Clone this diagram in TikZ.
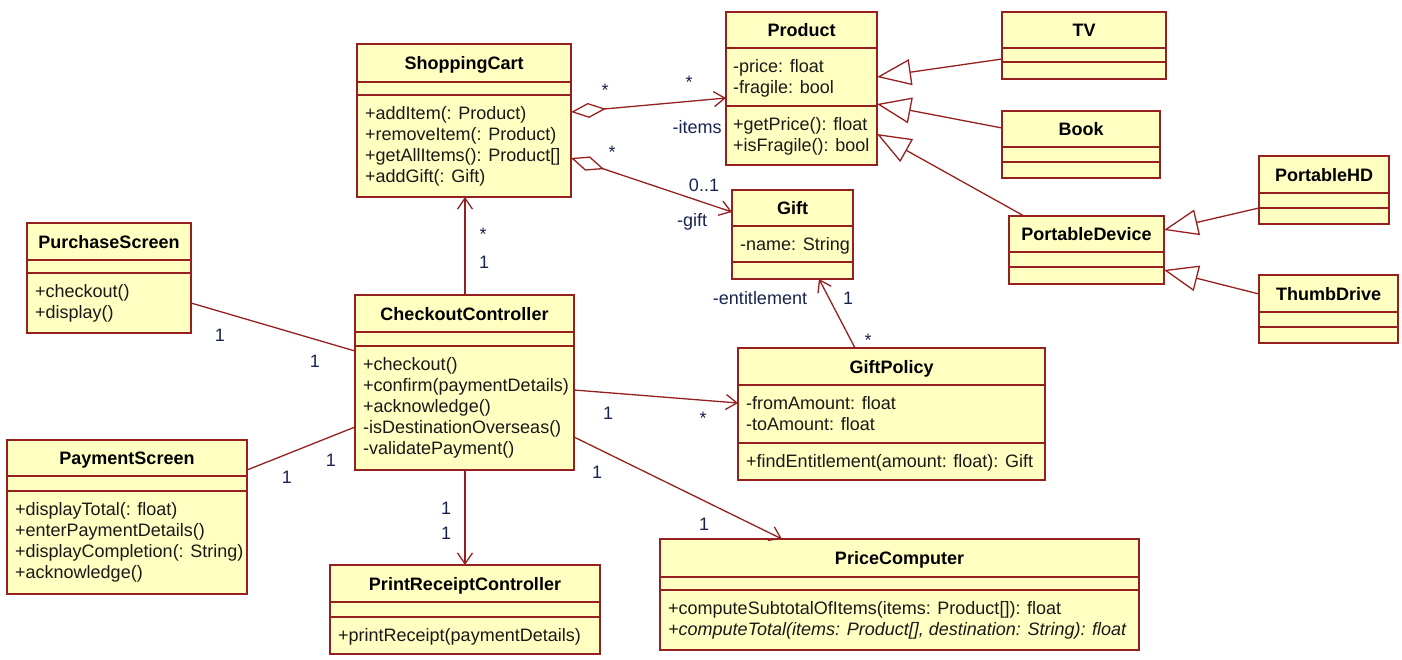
\documentclass[tikz,border=0pt]{standalone}
\usepackage{fontspec}
\setmainfont{Liberation Sans}
\usetikzlibrary{arrows.meta,calc}
\definecolor{boxfill}{RGB}{255,255,194}
\definecolor{boxline}{RGB}{150,32,32}
\definecolor{labelc}{RGB}{25,35,80}
\newcommand\umlfont{\fontsize{18}{21}\selectfont}
\tikzset{
  classbox/.style={draw=boxline, fill=boxfill, line width=1.6pt, inner sep=0pt, outer sep=0pt},
  divider/.style={draw=boxline, line width=1.6pt},
  titletext/.style={font=\umlfont\bfseries, text=black, inner sep=0pt, anchor=base},
  membertext/.style={font=\umlfont, text=black!90, inner sep=0pt, anchor=base west},
  lbl/.style={font=\umlfont, text=labelc, inner sep=0pt},
  conn/.style={draw=boxline, line width=1.3pt},
  nav/.style={-{Straight Barb[length=11pt,width=15pt]}},
  aggnav/.style={{Diamond[open,length=35pt,width=15pt]}-{Straight Barb[length=11pt,width=15pt]}},
  gen/.style={-{Triangle[open,length=34pt,width=26pt]}},
}
% name, x1, y1, x2, y2, divider1, divider2, title
\newcommand\umlclass[8]{%
  \node[classbox, anchor=north west, minimum width={(#4-#2)*1pt}, minimum height={(#5-#3)*1pt}] (#1) at (#2,#3) {};
  \draw[divider] (#2,#6) -- (#4,#6) (#2,#7) -- (#4,#7);
  \node[titletext] (#1-title) at ({(#2+#4)/2},{(#3+#6)/2+6.5}) {#8};
}
% name prefix, x, first baseline, list
\newcommand\umlmembers[4]{%
  \foreach \t [count=\i from 0] in {#4} {\node[membertext] (#1-\i) at (#2,{#3+21*\i}) {\t};}
}
\begin{document}
\begin{tikzpicture}[x=1pt,y=-1pt]
\useasboundingbox (0,0) rectangle (1402,659);

% classes
\umlclass{cart}{357}{44}{571}{197}{82}{95}{ShoppingCart}
\umlmembers{cartm}{365}{119}{{+addItem(: Product)},{+removeItem(: Product)},{+getAllItems(): Product[]},{+addGift(: Gift)}}

\umlclass{product}{726}{12}{877}{165}{48}{106}{Product}
\umlmembers{producta}{733}{72}{{-price: float},{-fragile: bool}}
\umlmembers{productm}{733}{130}{{+getPrice(): float},{+isFragile(): bool}}

\umlclass{tv}{1002}{12}{1166}{79}{48}{62}{TV}
\umlclass{book}{1002}{111}{1160}{178}{147}{162}{Book}
\umlclass{phd}{1259}{156}{1389}{224}{193}{208}{PortableHD}
\umlclass{pdev}{1009}{216}{1164}{284}{252}{267}{PortableDevice}
\umlclass{thumb}{1259}{275}{1398}{343}{312}{327}{ThumbDrive}

\umlclass{gift}{732}{190}{853}{279}{226}{262}{Gift}
\umlmembers{gifta}{740}{250}{{-name: String}}

\umlclass{purchase}{27}{223}{191}{333}{260}{273}{PurchaseScreen}
\umlmembers{purchasem}{35}{297}{{+checkout()},{+display()}}

\umlclass{checkout}{355}{295}{574}{470}{332}{346}{CheckoutController}
\umlmembers{checkoutm}{363}{370}{{+checkout()},{+confirm(paymentDetails)},{+acknowledge()},{-isDestinationOverseas()},{-validatePayment()}}

\umlclass{giftpolicy}{738}{348}{1045}{480}{385}{443}{GiftPolicy}
\umlmembers{giftpolicya}{746}{409}{{-fromAmount: float},{-toAmount: float}}
\umlmembers{giftpolicym}{746}{467}{{+findEntitlement(amount: float): Gift}}

\umlclass{payment}{7}{440}{247}{594}{476}{491}{PaymentScreen}
\umlmembers{paymentm}{15}{515}{{+displayTotal(: float)},{+enterPaymentDetails()},{+displayCompletion(: String)},{+acknowledge()}}

\umlclass{print}{330}{565}{600}{654}{602}{617}{PrintReceiptController}
\umlmembers{printm}{338}{641}{{+printReceipt(paymentDetails)}}

\umlclass{price}{660}{539}{1139}{650}{577}{590}{PriceComputer}
\umlmembers{pricem}{668}{614}{{+computeSubtotalOfItems(items: Product[]): float},{\itshape +computeTotal(items: Product[], destination: String): float}}

% associations
\draw[conn, aggnav] (cart.east |- 0,112) -- (product.west |- 0,98);
\draw[conn, aggnav] (cart.east |- 0,158) -- (gift.west |- 0,212);
\draw[conn, nav] (465,0 |- checkout.north) -- (465,0 |- cart.south);
\draw[conn] (purchase.east |- 0,303) -- (checkout.west |- 0,351);
\draw[conn] (payment.east |- 0,470) -- (checkout.west |- 0,427);
\draw[conn, nav] (checkout.east |- 0,390) -- (giftpolicy.west |- 0,403);
\draw[conn, nav] (465,0 |- checkout.south) -- (465,0 |- print.north);
\draw[conn, nav] (checkout.east |- 0,437) -- (782,0 |- price.north);
\draw[conn, nav] (855,0 |- giftpolicy.north) -- (819,0 |- gift.south);

% generalizations
\draw[conn, gen] (tv.west |- 0,59) -- (product.east |- 0,77);
\draw[conn, gen] (book.west |- 0,128) -- (product.east |- 0,104);
\draw[conn, gen] (1024,0 |- pdev.north) -- (product.east |- 0,134);
\draw[conn, gen] (phd.west |- 0,208) -- (pdev.east |- 0,230);
\draw[conn, gen] (thumb.west |- 0,294) -- (pdev.east |- 0,270);

% labels
\node[lbl] (l1) at (605,90) {*};
\node[lbl] (l2) at (689,82) {*};
\node[lbl] (l3) at (697,127) {-items};
\node[lbl] (l4) at (612,152) {*};
\node[lbl] (l5) at (704,185) {0..1};
\node[lbl] (l6) at (692,222) {-gift};
\node[lbl] (l7) at (760,298) {-entitlement};
\node[lbl] (l8) at (848,298) {1};
\node[lbl] (l9) at (868,340) {*};
\node[lbl] (l10) at (483,234) {*};
\node[lbl] (l11) at (484,262) {1};
\node[lbl] (l12) at (220,335) {1};
\node[lbl] (l13) at (315,361) {1};
\node[lbl] (l14) at (287,477) {1};
\node[lbl] (l15) at (331,460) {1};
\node[lbl] (l16) at (608,413) {1};
\node[lbl] (l17) at (703,418) {*};
\node[lbl] (l18) at (597,472) {1};
\node[lbl] (l19) at (704,524) {1};
\node[lbl] (l20) at (446,508) {1};
\node[lbl] (l21) at (446,533) {1};
\end{tikzpicture}
\end{document}
